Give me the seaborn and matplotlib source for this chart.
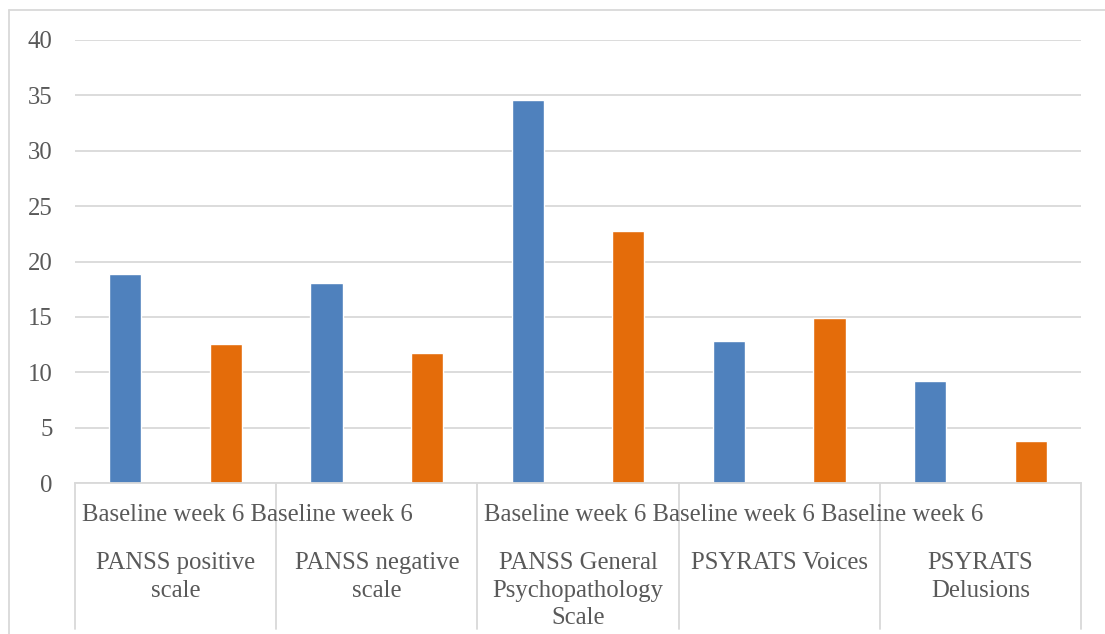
import matplotlib
matplotlib.use("Agg")
import matplotlib.pyplot as plt
from matplotlib.lines import Line2D
from matplotlib.transforms import ScaledTranslation
import seaborn as sns
import pandas as pd

# Scale scores at two time points
scales = ["PANSS positive\nscale", "PANSS negative\nscale",
          "PANSS General\nPsychopathology\nScale", "PSYRATS Voices",
          "PSYRATS\nDelusions"]
timepoints = ["Baseline", "week 6"]
baseline = [18.9, 18.05, 34.6, 12.8, 9.2]
week6 = [12.55, 11.75, 22.75, 14.9, 3.8]
yticks = [0, 5, 10, 15, 20, 25, 30, 35, 40]

colors = {"Baseline": "#4F81BD", "week 6": "#E46C0A"}
grid_col = "#D9D9D9"
text_col = "#595959"
font = "Liberation Serif"
fs = 17.8

rows = []
for i, s in enumerate(scales):
    for j, (t, v) in enumerate(zip(timepoints, [baseline[i], week6[i]])):
        rows.append({"slot": f"{i}-{j}", "scale": s, "time": t, "value": v})
df = pd.DataFrame(rows)

sns.set_theme(style="white")
plt.rcParams["font.family"] = [font, "DejaVu Serif"]

W, H = 1105, 634
fig = plt.figure(figsize=(W / 100, H / 100), dpi=100)
ax = fig.add_axes([75 / W, 1 - 483 / H, (1081 - 75) / W, (483 - 40) / H])

sns.barplot(data=df, x="slot", y="value", hue="time", palette=colors,
            dodge=False, width=0.32, ax=ax, legend=False, saturation=1)

ax.set_xlim(-0.5, len(df) - 0.5)
ax.set_ylim(0, 40)
ax.set_yticks(yticks)
ax.set_yticklabels([str(v) for v in yticks])
ax.yaxis.grid(True, color=grid_col, linewidth=1.3)
ax.set_axisbelow(True)
for side in ["top", "right", "left"]:
    ax.spines[side].set_visible(False)
ax.spines["bottom"].set_color(grid_col)
ax.spines["bottom"].set_linewidth(1.3)
ax.tick_params(axis="y", length=0, pad=16, labelsize=fs, labelcolor=text_col)
ax.set_xticks([])
ax.set_xlabel("")
ax.set_ylabel("")

xtr = ax.get_xaxis_transform()
ax_h = 483 - 40

def ypix(px):
    """Axes-fraction y for a pixel row in the figure (from top)."""
    return (483 - px) / ax_h

# Time-point labels run together along the first row of the category axis
inset = ScaledTranslation(7 / 100, 0, fig.dpi_scale_trans)
for group in [[0, 1], [2, 3, 4]]:
    run = " ".join(timepoints * len(group))
    x0 = 2 * group[0] - 0.5
    ax.text(x0, ypix(521), run, transform=xtr + inset, ha="left",
            va="baseline", fontsize=fs, color=text_col, clip_on=False)

# Category labels, one text per line
line_rows = [569, 597, 624]
for i, s in enumerate(scales):
    cx = 2 * i + 0.5
    for ln, y in zip(s.split("\n"), line_rows):
        ax.text(cx, ypix(y), ln, transform=xtr, ha="center", va="baseline",
                fontsize=fs, color=text_col, clip_on=False)

# Category separators below the axis
for b in range(len(scales) + 1):
    xb = 2 * b - 0.5
    ax.add_line(Line2D([xb, xb], [0, ypix(629)], transform=xtr,
                       color=grid_col, linewidth=1.3, clip_on=False))

# Chart-area frame
fig.add_artist(Line2D([8.5 / W, 1.0], [1 - 10 / H, 1 - 10 / H],
                      transform=fig.transFigure, color=grid_col, linewidth=1.3))
fig.add_artist(Line2D([8.5 / W, 8.5 / W], [0, 1 - 10 / H],
                      transform=fig.transFigure, color=grid_col, linewidth=1.3))

fig.savefig("out.png", dpi=100)
